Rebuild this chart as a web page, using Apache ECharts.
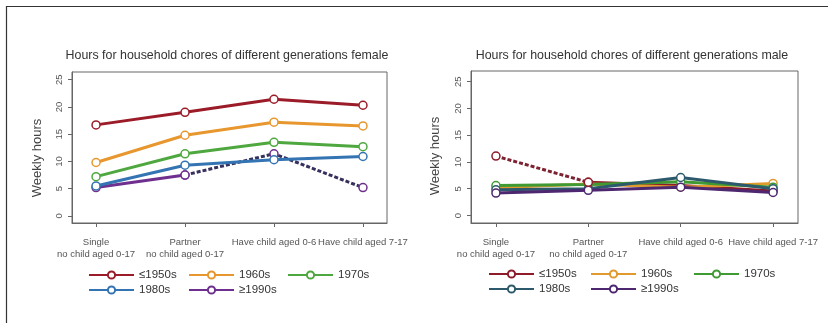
<!DOCTYPE html>
<html><head><meta charset="utf-8">
<script src="https://cdn.jsdelivr.net/npm/echarts@6/dist/echarts.min.js"></script>
<style>html,body{margin:0;padding:0;background:#fff}#c{width:828px;height:323px}</style>
</head><body><div id="c"></div>
<script>
const categories = ['Single\nno child aged 0-17', 'Partner\nno child aged 0-17', 'Have child aged 0-6', 'Have child aged 7-17'];
const yTicks = [0, 5, 10, 15, 20, 25];
const generations = ['≤1950s', '1960s', '1970s', '1980s', '≥1990s'];

const female1950 = [16.7, 19.0, 21.4, 20.3];
const female1960 = [9.8, 14.8, 17.2, 16.5];
const female1970 = [7.2, 11.4, 13.5, 12.7];
const female1980 = [5.5, 9.3, 10.3, 10.9];
const female1990 = [5.2, 7.5, 11.4, 5.2];

const male1950 = [11.1, 6.2, 5.6, 4.6];
const male1960 = [5.2, 5.9, 5.3, 6.0];
const male1970 = [5.6, 5.8, 6.3, 5.3];
const male1980 = [4.8, 5.0, 7.1, 5.0];
const male1990 = [4.2, 4.7, 5.3, 4.3];

const FONT = 'Liberation Sans';
const fColors = ['#9b1c28', '#e8972e', '#4fa83f', '#3474b3', '#6e2f8e'];
const fDash = '#35305c';
const mColors = ['#8e1b2a', '#e09a2e', '#3f9a34', '#2c5a6c', '#4d2870'];
const mDash = '#7d2231';

function pts(arr, keep) {
  return arr.map((v, i) => [i, keep ? (keep.indexOf(i) >= 0 ? v : null) : v]);
}
function lineSeries(name, data, color, gi, opts) {
  opts = opts || {};
  return {
    type: 'line', name: name, xAxisIndex: gi, yAxisIndex: gi, data: data,
    symbol: 'circle', symbolSize: 8, showSymbol: true,
    lineStyle: { color: opts.lineColor || color, width: 3, type: opts.dashed ? [4, 2] : 'solid' },
    itemStyle: { color: '#fff', borderColor: color, borderWidth: 1.5 },
    emphasis: { disabled: true }, animation: false, z: opts.z || 2
  };
}

const grids = [
  { left: 72, top: 72, width: 315, height: 151, show: true, borderColor: '#666', borderWidth: 1 },
  { left: 471, top: 71, width: 327, height: 152, show: true, borderColor: '#666', borderWidth: 1 }
];
function xAxis(gi) {
  return {
    type: 'value', gridIndex: gi, min: -0.27, max: 3.27,
    splitLine: { show: false },
    axisLine: { show: true, onZero: false, lineStyle: { color: '#666' } },
    axisTick: { show: true, customValues: [0, 1, 2, 3], length: 4, lineStyle: { color: '#666' } },
    axisLabel: {
      customValues: [0, 1, 2, 3], formatter: v => categories[Math.round(v)],
      hideOverlap: false, interval: 0,
      fontFamily: FONT, fontSize: 9.5, lineHeight: 12, color: '#555', margin: 13
    }
  };
}
function yAxis(gi, min, max) {
  return {
    type: 'value', gridIndex: gi, min: min, max: max,
    splitLine: { show: false },
    axisLine: { show: true, onZero: false, lineStyle: { color: '#666' } },
    axisTick: { show: true, customValues: yTicks, length: 4, lineStyle: { color: '#666' } },
    axisLabel: { customValues: yTicks, rotate: 90, fontFamily: FONT, fontSize: 9.5, color: '#555', margin: 8 }
  };
}

const series = [
  lineSeries(generations[0], pts(female1950), fColors[0], 0, { z: 6 }),
  lineSeries(generations[1], pts(female1960), fColors[1], 0, { z: 5 }),
  lineSeries(generations[2], pts(female1970), fColors[2], 0, { z: 4 }),
  lineSeries(generations[3], pts(female1980), fColors[3], 0, { z: 3 }),
  lineSeries(generations[4], pts(female1990, [0, 1]), fColors[4], 0, { z: 2 }),
  lineSeries('f1990dash', pts(female1990, [1, 2, 3]), fColors[4], 0, { dashed: true, lineColor: fDash, z: 2 }),

  lineSeries(generations[0] + ' ', pts(male1950, [1, 2, 3]), mColors[0], 1, { z: 2 }),
  lineSeries('m1950dash', pts(male1950, [0, 1]), mColors[0], 1, { dashed: true, lineColor: mDash, z: 6 }),
  lineSeries(generations[1] + ' ', pts(male1960), mColors[1], 1, { z: 3 }),
  lineSeries(generations[2] + ' ', pts(male1970), mColors[2], 1, { z: 4 }),
  lineSeries(generations[3] + ' ', pts(male1980), mColors[3], 1, { z: 5 }),
  lineSeries(generations[4] + ' ', pts(male1990), mColors[4], 1, { z: 5 })
];

const legendPosF = [[83, 264], [183, 264], [282, 264], [83, 279], [183, 279]];
const legendPosM = [[483, 263], [585, 263], [688, 263], [483, 278], [585, 278]];
const legends = [];
generations.forEach((g, i) => {
  legends.push({ left: legendPosF[i][0], top: legendPosF[i][1], data: [g], itemWidth: 45, itemHeight: 9, itemGap: 0,
    selectedMode: false, textStyle: { fontFamily: FONT, fontSize: 11.5, color: '#333' } });
  legends.push({ left: legendPosM[i][0], top: legendPosM[i][1], data: [g + ' '], itemWidth: 45, itemHeight: 9, itemGap: 0,
    selectedMode: false, textStyle: { fontFamily: FONT, fontSize: 11.5, color: '#333' } });
});

const chart = echarts.init(document.getElementById('c'), null, { renderer: 'canvas' });
chart.setOption({
  animation: false,
  backgroundColor: '#fff',
  title: [
    { text: 'Hours for household chores of different generations female', left: 222, top: 45, textAlign: 'center',
      textStyle: { fontFamily: FONT, fontSize: 12.4, fontWeight: 'normal', color: '#333' } },
    { text: 'Hours for household chores of different generations male', left: 627, top: 45, textAlign: 'center',
      textStyle: { fontFamily: FONT, fontSize: 12.4, fontWeight: 'normal', color: '#333' } }
  ],
  grid: grids,
  xAxis: [xAxis(0), xAxis(1)],
  yAxis: [yAxis(0, -1.3, 26.4), yAxis(1, -1.4, 27.0)],
  legend: legends,
  series: series,
  graphic: [
    { type: 'line', shape: { x1: 6, y1: 6.5, x2: 828, y2: 6.5 }, style: { stroke: '#333', lineWidth: 1.2 } },
    { type: 'line', shape: { x1: 6.5, y1: 6, x2: 6.5, y2: 323 }, style: { stroke: '#333', lineWidth: 1.2 } },
    { type: 'text', x: 37, y: 158, rotation: Math.PI / 2,
      style: { text: 'Weekly hours', fontFamily: FONT, fontSize: 13, fill: '#444', align: 'center', verticalAlign: 'middle' } },
    { type: 'text', x: 435, y: 156, rotation: Math.PI / 2,
      style: { text: 'Weekly hours', fontFamily: FONT, fontSize: 13, fill: '#444', align: 'center', verticalAlign: 'middle' } }
  ]
});
</script></body></html>
